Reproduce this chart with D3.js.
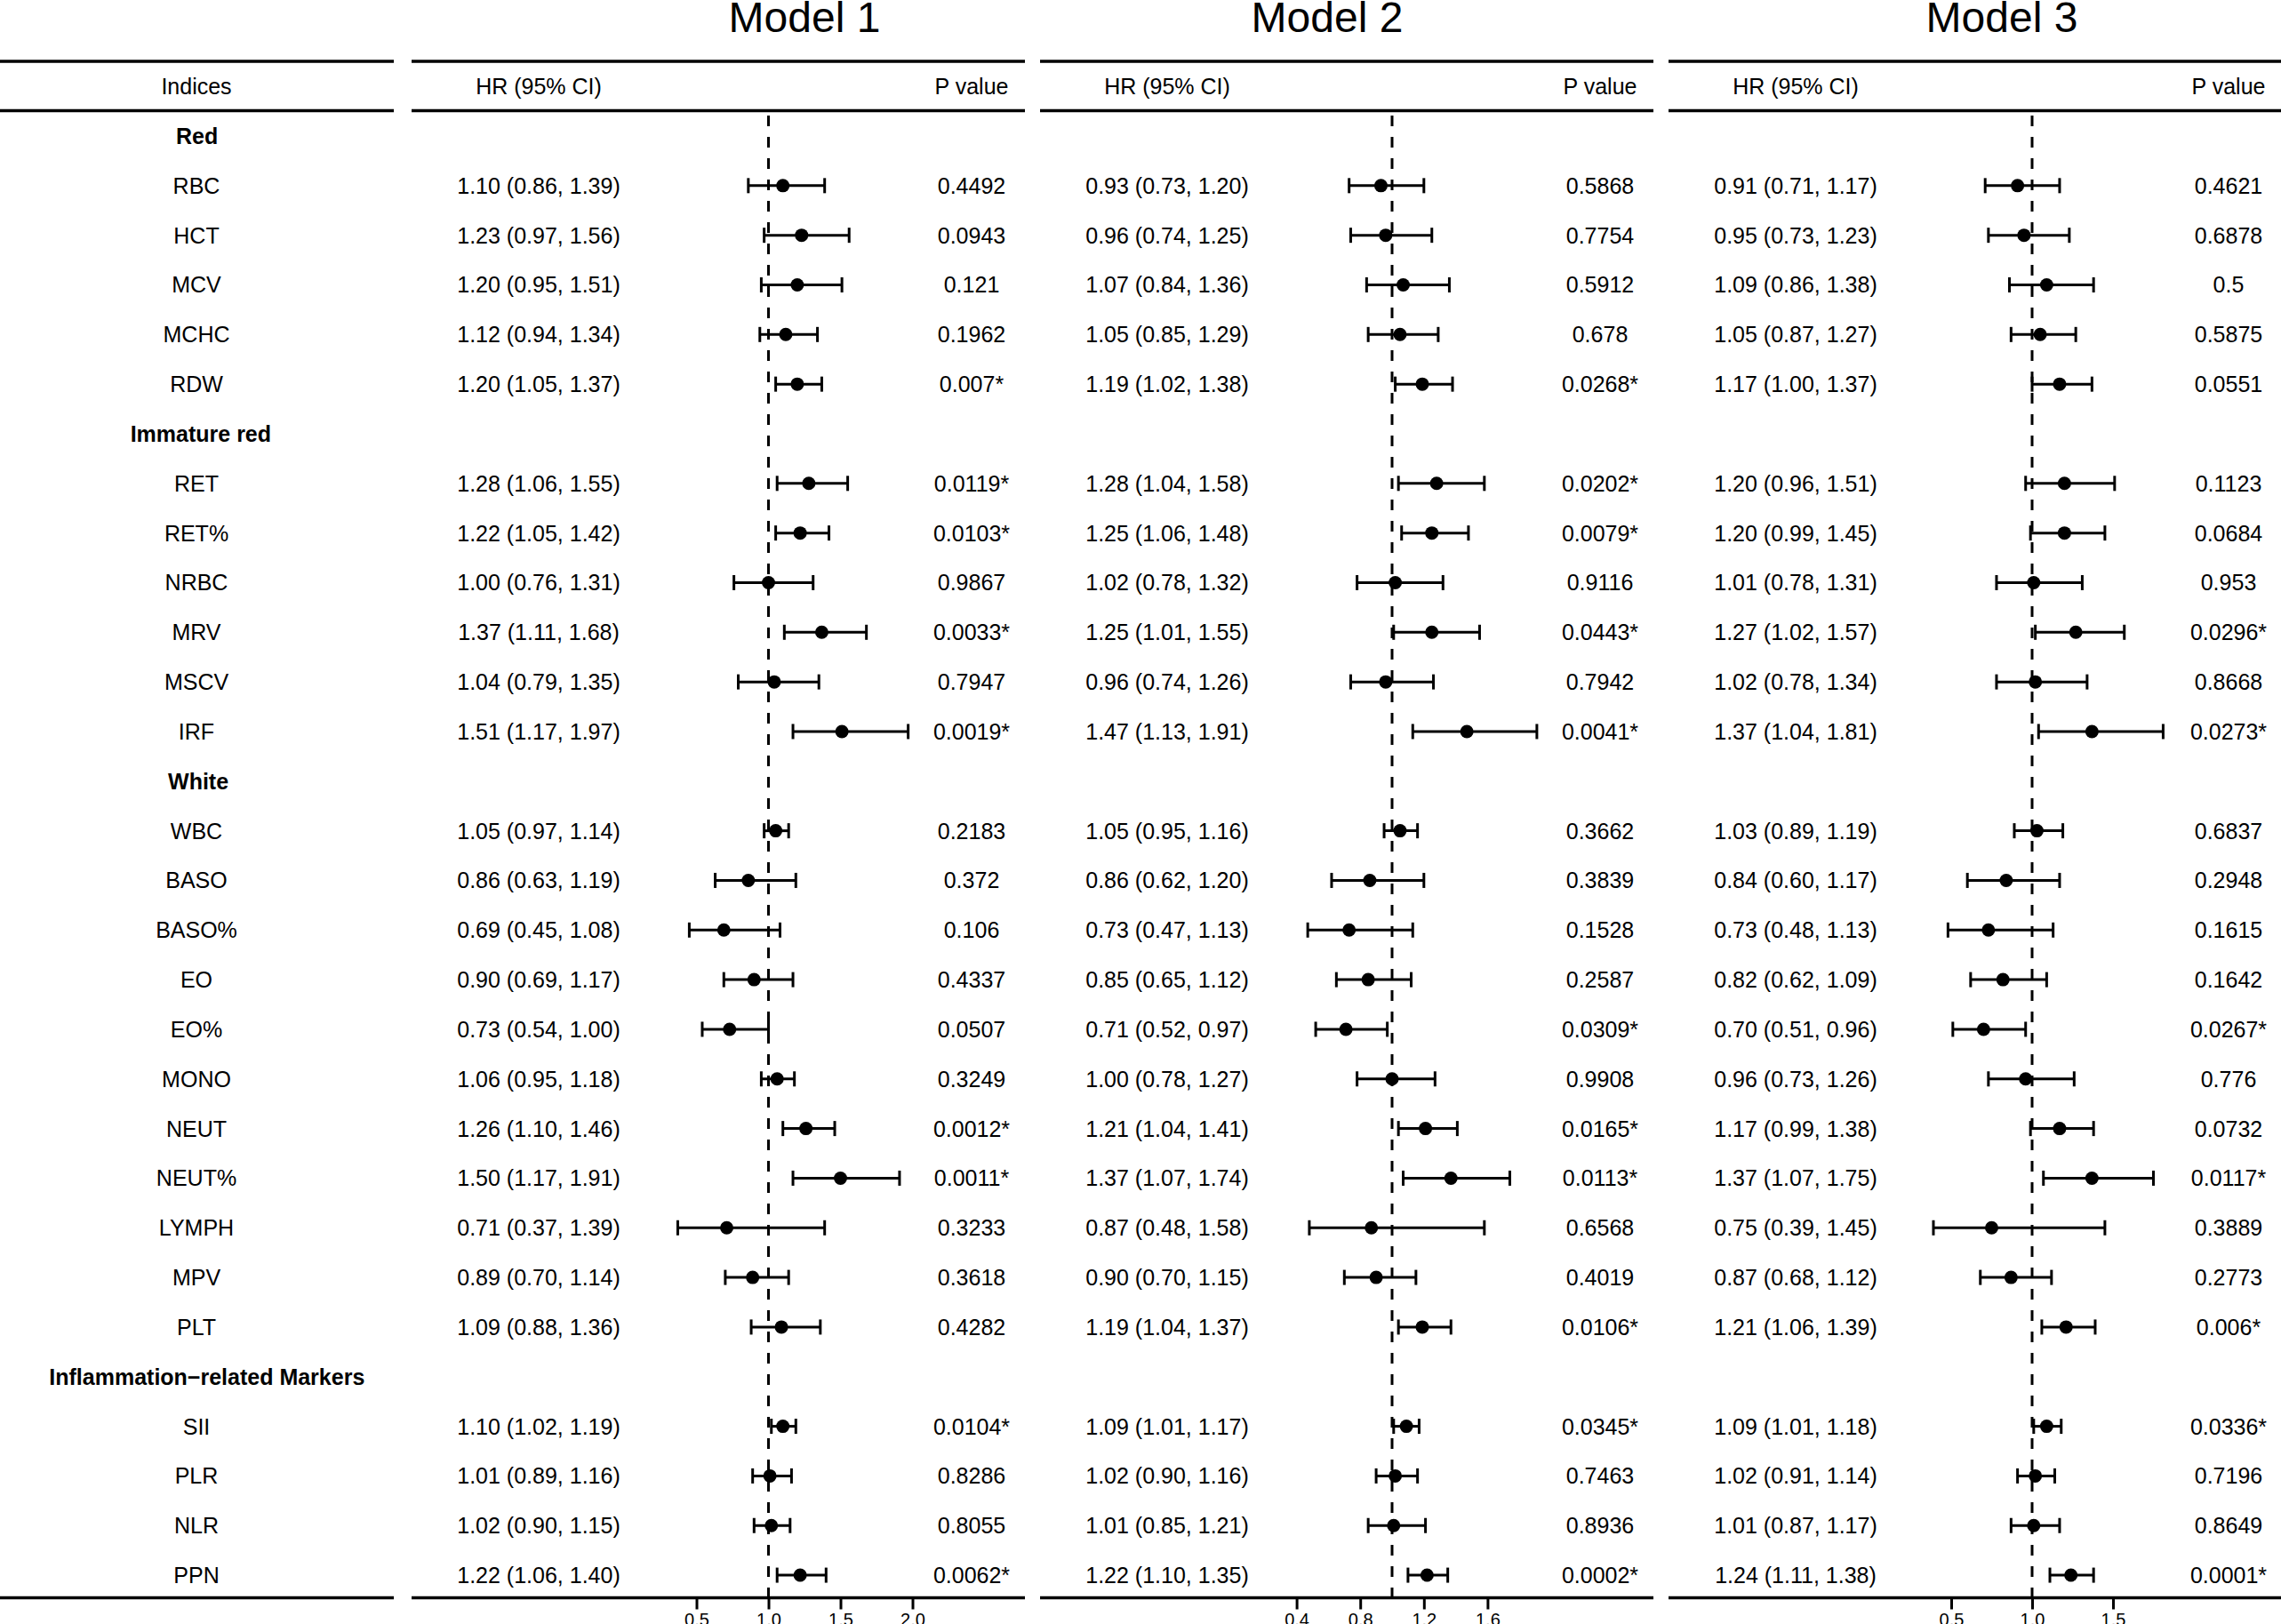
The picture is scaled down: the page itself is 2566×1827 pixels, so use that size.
<!DOCTYPE html>
<html>
<head>
<meta charset="utf-8">
<script src="https://cdn.jsdelivr.net/npm/d3@7"></script>
<style>
  body { margin: 0; background: #fff; }
  svg { display: block; font-family: "Liberation Sans", Arial, sans-serif; }
</style>
</head>
<body>
<svg id="forest"></svg>
<script>
// row labels, grouped
const groupNames = ["Red", "Immature red", "White", "Inflammation\u2212related Markers"]
const groupSizes = [5, 6, 11, 4]
const indices = ["RBC", "HCT", "MCV", "MCHC", "RDW",
  "RET", "RET%", "NRBC", "MRV", "MSCV", "IRF",
  "WBC", "BASO", "BASO%", "EO", "EO%", "MONO", "NEUT", "NEUT%", "LYMPH", "MPV", "PLT",
  "SII", "PLR", "NLR", "PPN"]

// Model 1
const m1Hr = [1.10, 1.23, 1.20, 1.12, 1.20, 1.28, 1.22, 1.00, 1.37, 1.04, 1.51,
  1.05, 0.86, 0.69, 0.90, 0.73, 1.06, 1.26, 1.50, 0.71, 0.89, 1.09, 1.10, 1.01, 1.02, 1.22]
const m1Lo = [0.86, 0.97, 0.95, 0.94, 1.05, 1.06, 1.05, 0.76, 1.11, 0.79, 1.17,
  0.97, 0.63, 0.45, 0.69, 0.54, 0.95, 1.10, 1.17, 0.37, 0.70, 0.88, 1.02, 0.89, 0.90, 1.06]
const m1Hi = [1.39, 1.56, 1.51, 1.34, 1.37, 1.55, 1.42, 1.31, 1.68, 1.35, 1.97,
  1.14, 1.19, 1.08, 1.17, 1.00, 1.18, 1.46, 1.91, 1.39, 1.14, 1.36, 1.19, 1.16, 1.15, 1.40]
const m1P = ["0.4492", "0.0943", "0.121", "0.1962", "0.007*", "0.0119*", "0.0103*", "0.9867", "0.0033*", "0.7947", "0.0019*",
  "0.2183", "0.372", "0.106", "0.4337", "0.0507", "0.3249", "0.0012*", "0.0011*", "0.3233", "0.3618", "0.4282",
  "0.0104*", "0.8286", "0.8055", "0.0062*"]

// Model 2
const m2Hr = [0.93, 0.96, 1.07, 1.05, 1.19, 1.28, 1.25, 1.02, 1.25, 0.96, 1.47,
  1.05, 0.86, 0.73, 0.85, 0.71, 1.00, 1.21, 1.37, 0.87, 0.90, 1.19, 1.09, 1.02, 1.01, 1.22]
const m2Lo = [0.73, 0.74, 0.84, 0.85, 1.02, 1.04, 1.06, 0.78, 1.01, 0.74, 1.13,
  0.95, 0.62, 0.47, 0.65, 0.52, 0.78, 1.04, 1.07, 0.48, 0.70, 1.04, 1.01, 0.90, 0.85, 1.10]
const m2Hi = [1.20, 1.25, 1.36, 1.29, 1.38, 1.58, 1.48, 1.32, 1.55, 1.26, 1.91,
  1.16, 1.20, 1.13, 1.12, 0.97, 1.27, 1.41, 1.74, 1.58, 1.15, 1.37, 1.17, 1.16, 1.21, 1.35]
const m2P = ["0.5868", "0.7754", "0.5912", "0.678", "0.0268*", "0.0202*", "0.0079*", "0.9116", "0.0443*", "0.7942", "0.0041*",
  "0.3662", "0.3839", "0.1528", "0.2587", "0.0309*", "0.9908", "0.0165*", "0.0113*", "0.6568", "0.4019", "0.0106*",
  "0.0345*", "0.7463", "0.8936", "0.0002*"]

// Model 3
const m3Hr = [0.91, 0.95, 1.09, 1.05, 1.17, 1.20, 1.20, 1.01, 1.27, 1.02, 1.37,
  1.03, 0.84, 0.73, 0.82, 0.70, 0.96, 1.17, 1.37, 0.75, 0.87, 1.21, 1.09, 1.02, 1.01, 1.24]
const m3Lo = [0.71, 0.73, 0.86, 0.87, 1.00, 0.96, 0.99, 0.78, 1.02, 0.78, 1.04,
  0.89, 0.60, 0.48, 0.62, 0.51, 0.73, 0.99, 1.07, 0.39, 0.68, 1.06, 1.01, 0.91, 0.87, 1.11]
const m3Hi = [1.17, 1.23, 1.38, 1.27, 1.37, 1.51, 1.45, 1.31, 1.57, 1.34, 1.81,
  1.19, 1.17, 1.13, 1.09, 0.96, 1.26, 1.38, 1.75, 1.45, 1.12, 1.39, 1.18, 1.14, 1.17, 1.38]
const m3P = ["0.4621", "0.6878", "0.5", "0.5875", "0.0551", "0.1123", "0.0684", "0.953", "0.0296*", "0.8668", "0.0273*",
  "0.6837", "0.2948", "0.1615", "0.1642", "0.0267*", "0.776", "0.0732", "0.0117*", "0.3889", "0.2773", "0.006*",
  "0.0336*", "0.7196", "0.8649", "0.0001*"]

const modelNames = ["Model 1", "Model 2", "Model 3"]
const m1Ticks = [0.5, 1.0, 1.5, 2.0]
const m2Ticks = [0.4, 0.8, 1.2, 1.6]
const m3Ticks = [0.5, 1.0, 1.5]

// ---- layout ----
const width = 2566, height = 1827
const rowTop = 153, rowStep = 55.83
const lineTop = 69, lineHead = 124.5, lineBottom = 1797.5
const labelX = 221
const panelW = 690
const panels = [
  {x: 463, title: 905, one: 864.5, unit: 162},
  {x: 1170, title: 1493, one: 1566, unit: 179},
  {x: 1877, title: 2252, one: 2286, unit: 182}
]
const hrOff = 143, pOff = 630

const models = [
  {hr: m1Hr, lo: m1Lo, hi: m1Hi, p: m1P, ticks: m1Ticks},
  {hr: m2Hr, lo: m2Lo, hi: m2Hi, p: m2P, ticks: m2Ticks},
  {hr: m3Hr, lo: m3Lo, hi: m3Hi, p: m3P, ticks: m3Ticks}
]

// build rows: group header then its members
const rows = []
let k = 0
groupNames.forEach((g, gi) => {
  rows.push({label: g, group: true})
  for (let j = 0; j < groupSizes[gi]; j++) {
    rows.push({label: indices[k], group: false, idx: k})
    k++
  }
})

const yScale = d3.scaleLinear()
  .domain([0, rows.length - 1])
  .range([rowTop, rowTop + rowStep * (rows.length - 1)])

const svg = d3.select('#forest')
  .attr('width', width)
  .attr('height', height)

svg.append('rect').attr('width', width).attr('height', height).attr('fill', '#fff')

const fs = 25
const f2 = d3.format('.2f')

// horizontal rules
const segs = [[0, 443]].concat(panels.map(p => [p.x, p.x + panelW]))
;[lineTop, lineHead, lineBottom].forEach(y => {
  svg.append('g').selectAll('line')
    .data(segs)
    .enter().append('line')
      .attr('x1', d => d[0]).attr('x2', d => d[1])
      .attr('y1', y).attr('y2', y)
      .attr('stroke', '#000')
      .attr('stroke-width', 3.4)
})

const headY = (lineTop + lineHead) / 2

// left column
svg.append('text')
  .attr('x', labelX).attr('y', headY)
  .attr('text-anchor', 'middle').attr('dominant-baseline', 'central')
  .attr('font-size', fs)
  .text('Indices')

const left = svg.append('g')
rows.forEach((r, i) => {
  if (r.group) {
    // centred on plain-text width, drawn bold (as the R device does)
    const tmp = left.append('text').attr('font-size', fs).text(r.label)
    const w = tmp.node().getComputedTextLength()
    tmp.remove()
    left.append('text')
      .attr('x', labelX - w / 2).attr('y', yScale(i))
      .attr('dominant-baseline', 'central')
      .attr('font-size', fs).attr('font-weight', 'bold')
      .text(r.label)
  } else {
    left.append('text')
      .attr('x', labelX).attr('y', yScale(i))
      .attr('text-anchor', 'middle').attr('dominant-baseline', 'central')
      .attr('font-size', fs)
      .text(r.label)
  }
})

const dataRows = rows.map((r, i) => ({...r, row: i})).filter(r => !r.group)

models.forEach((m, mi) => {
  const p = panels[mi]
  const g = svg.append('g')

  const x = d3.scaleLinear()
    .domain([0.5, 1.5])
    .range([p.one - p.unit / 2, p.one + p.unit / 2])

  g.append('text')
    .attr('x', p.title).attr('y', 36)
    .attr('text-anchor', 'middle')
    .attr('font-size', 48)
    .text(modelNames[mi])

  g.append('text')
    .attr('x', p.x + hrOff).attr('y', headY)
    .attr('text-anchor', 'middle').attr('dominant-baseline', 'central')
    .attr('font-size', fs)
    .text('HR (95% CI)')
  g.append('text')
    .attr('x', p.x + pOff).attr('y', headY)
    .attr('text-anchor', 'middle').attr('dominant-baseline', 'central')
    .attr('font-size', fs)
    .text('P value')

  // reference line at HR = 1
  g.append('line')
    .attr('x1', x(1)).attr('x2', x(1))
    .attr('y1', 130).attr('y2', lineBottom)
    .attr('stroke', '#000')
    .attr('stroke-width', 3)
    .attr('stroke-dasharray', '12,12')

  g.selectAll('.hrtext')
    .data(dataRows)
    .enter().append('text')
      .attr('class', 'hrtext')
      .attr('x', p.x + hrOff).attr('y', d => yScale(d.row))
      .attr('text-anchor', 'middle').attr('dominant-baseline', 'central')
      .attr('font-size', fs)
      .text(d => `${f2(m.hr[d.idx])} (${f2(m.lo[d.idx])}, ${f2(m.hi[d.idx])})`)

  g.selectAll('.ptext')
    .data(dataRows)
    .enter().append('text')
      .attr('class', 'ptext')
      .attr('x', p.x + pOff).attr('y', d => yScale(d.row))
      .attr('text-anchor', 'middle').attr('dominant-baseline', 'central')
      .attr('font-size', fs)
      .text(d => m.p[d.idx])

  const ci = g.selectAll('.ci')
    .data(dataRows)
    .enter().append('g')
      .attr('class', 'ci')
      .attr('transform', d => `translate(0, ${yScale(d.row)})`)

  ci.append('line')
    .attr('x1', d => x(m.lo[d.idx])).attr('x2', d => x(m.hi[d.idx]))
    .attr('stroke', '#000').attr('stroke-width', 3)
  ci.append('line')
    .attr('x1', d => x(m.lo[d.idx])).attr('x2', d => x(m.lo[d.idx]))
    .attr('y1', -8.5).attr('y2', 8.5)
    .attr('stroke', '#000').attr('stroke-width', 3)
  ci.append('line')
    .attr('x1', d => x(m.hi[d.idx])).attr('x2', d => x(m.hi[d.idx]))
    .attr('y1', -8.5).attr('y2', 8.5)
    .attr('stroke', '#000').attr('stroke-width', 3)
  ci.append('circle')
    .attr('cx', d => x(m.hr[d.idx]))
    .attr('r', 7.5)
    .attr('fill', '#000')

  // x axis hanging from the bottom rule
  const axis = d3.axisBottom(x)
    .tickValues(m.ticks)
    .tickFormat(d3.format('.1f'))
    .tickSize(13)
    .tickPadding(4.5)
  const ax = g.append('g')
    .attr('transform', `translate(0, ${lineBottom})`)
    .call(axis)
  ax.select('.domain').remove()
  ax.selectAll('.tick line').attr('stroke-width', 3)
  ax.selectAll('.tick text')
    .attr('font-size', 20)
    .attr('font-family', '"Liberation Sans", Arial, sans-serif')
    .attr('fill', '#000')
})
</script>
</body>
</html>
